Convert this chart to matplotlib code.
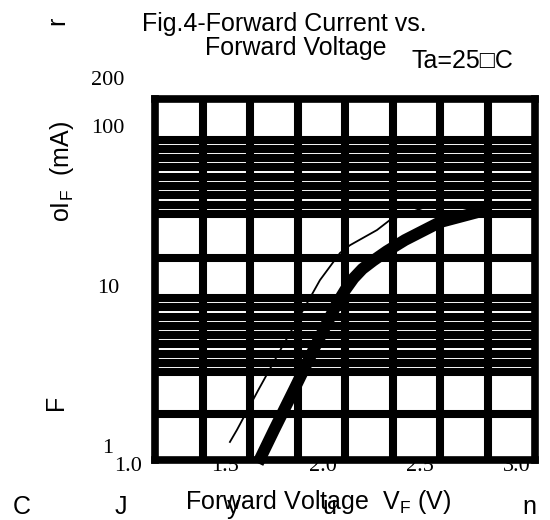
import matplotlib
matplotlib.use("Agg")
import matplotlib.pyplot as plt
from matplotlib.ticker import NullLocator

plt.rcParams['font.family'] = ['Liberation Sans', 'DejaVu Sans']
plt.rcParams['mathtext.fontset'] = 'custom'
plt.rcParams['mathtext.rm'] = 'Liberation Sans'

# forward voltage (V) and forward current (mA)
vf_thick = [1.668, 1.751, 1.853, 1.961, 2.075, 2.118, 2.160, 2.205, 2.260, 2.330, 2.424, 2.604, 2.835]
if_thick = [0.78, 1.26, 2.24, 4.16, 7.8, 9.5, 11.2, 12.8, 14.4, 16.5, 19.4, 25.1, 29.8]

vf_thin = [1.524, 1.560, 1.670, 1.792, 1.920, 1.987, 2.090, 2.141, 2.280, 2.347, 2.553]
if_thin = [1.06, 1.26, 2.24, 4.16, 7.8, 10.9, 16.1, 18.0, 22.4, 25.9, 32.0]

x_ticks = [1.0, 1.5, 2.0, 2.5, 3.0]
x_ticklabels = ['1.0', '1.5', '2.0', '2.5', '3.0']
y_ticks = [1, 10, 100, 200]
y_ticklabels = ['1', '10', '100', '200']

# background grid (it does not line up with the scale in the original)
grid_cols = [1, 2, 3, 4, 5, 6, 7]
grid_rows = [5.0, 9.5, 10.5, 11.5, 12.5, 13.5, 14.5, 15.5, 16.5, 17.5, 21.8,
             26.6, 27.6, 28.6, 29.6, 30.6, 31.6, 32.6, 33.6, 34.6]

W, H = 550, 520
fig = plt.figure(figsize=(W / 100, H / 100), dpi=100)

# grid frame
gax = fig.add_axes([155 / W, (H - 460) / H, 380 / W, 361 / H])
gax.set_xlim(0, 8)
gax.set_ylim(0, 39)
gax.set_xticks(grid_cols)
gax.set_yticks(grid_rows)
gax.tick_params(length=0, labelbottom=False, labelleft=False)
gax.grid(True, color='black', linewidth=5.8)
for s in gax.spines.values():
    s.set_linewidth(5.5)

# data axes on top
ax = fig.add_axes([128 / W, (H - 446) / H, 389 / W, 368 / H])
ax.patch.set_visible(False)
ax.set_yscale('log')
ax.set_xlim(1.0, 3.0)
ax.set_ylim(1, 200)
for s in ax.spines.values():
    s.set_visible(False)
ax.yaxis.set_minor_locator(NullLocator())
ax.set_xticks(x_ticks)
ax.set_xticklabels(x_ticklabels, family='Liberation Serif', fontsize=16)
ax.set_yticks(y_ticks)
ax.set_yticklabels(y_ticklabels, family='Liberation Serif', fontsize=16)
ax.tick_params(axis='x', length=0, pad=8.0)
ax.tick_params(axis='y', length=0, pad=14.4)
for lab in ax.get_yticklabels():
    lab.set_horizontalalignment('center')

ax.plot(vf_thick, if_thick, color='black', lw=8.5, clip_on=False,
        solid_capstyle='butt', solid_joinstyle='round', zorder=3)
ax.plot(vf_thin, if_thin, color='black', lw=1.3, clip_on=False, zorder=3)

fs = 18
fig.text(284 / W, 1 - 23.5 / H, 'Fig.4-Forward Current vs.', ha='center', va='center', fontsize=fs)
fig.text(296 / W, 1 - 48.5 / H, 'Forward Voltage', ha='center', va='center', fontsize=fs)
fig.text(462 / W, 1 - 61 / H, 'Ta=25\u25a1C', ha='center', va='center', fontsize=fs)
fig.text(62 / W, 1 - 171 / H, r'o$\mathregular{I_F}$  (mA)', rotation=90,
         ha='center', va='center', fontsize=fs)
fig.text(318 / W, 1 - 509 / H, r'Forward Voltage  $\mathregular{V_F}$ (V)',
         ha='center', va='baseline', fontsize=fs)

# stray glyphs left over in the original rendering
fig.text(57 / W, 1 - 21 / H, 'r', rotation=90, ha='center', va='center', fontsize=fs)
fig.text(56 / W, 1 - 402 / H, 'F', rotation=90, ha='center', va='center', fontsize=fs)
for ch, xp in [('C', 22), ('J', 121), ('y', 233), ('u', 329), ('n', 529)]:
    fig.text(xp / W, 1 - 514 / H, ch, ha='center', va='baseline', fontsize=fs)

fig.savefig('out.png', dpi=100)
